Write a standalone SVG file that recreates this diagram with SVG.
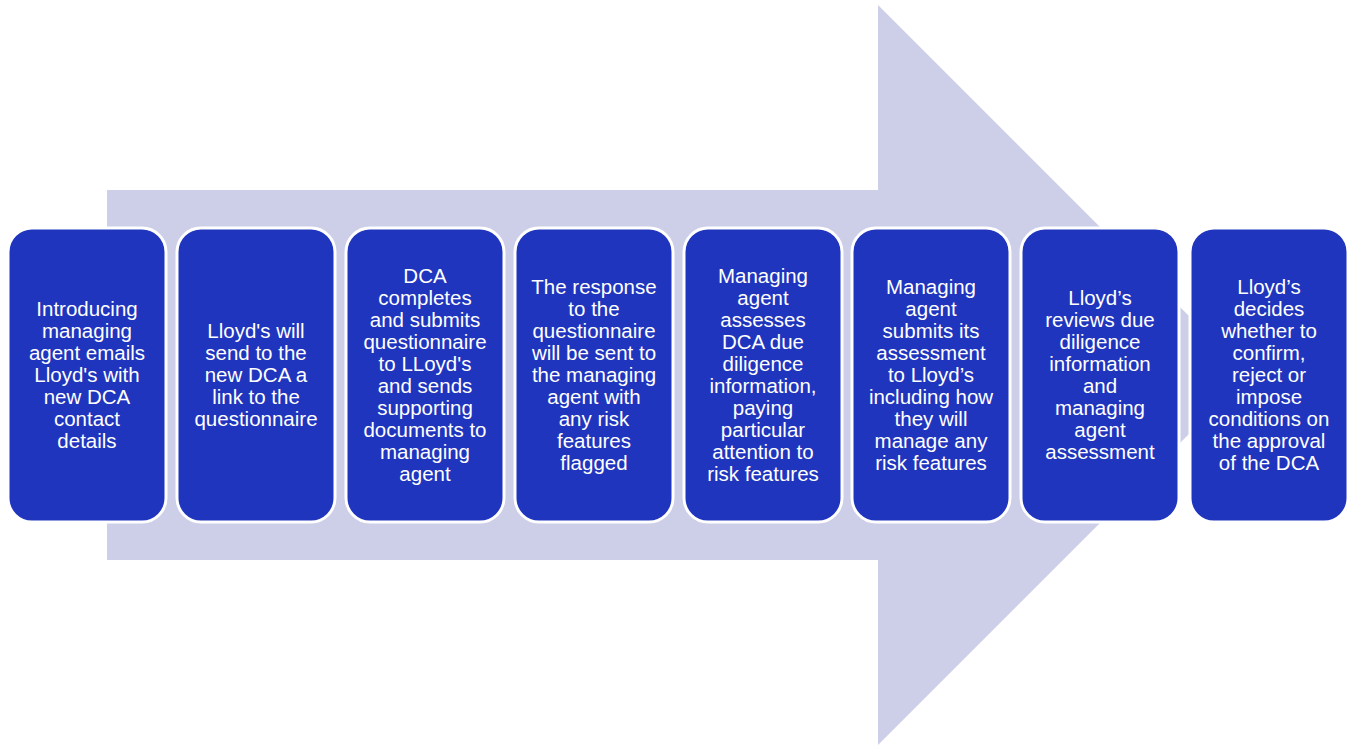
<svg xmlns="http://www.w3.org/2000/svg" width="1350" height="746" viewBox="0 0 1350 746">
<style>
.box{fill:#2035BE;stroke:#FFFFFF;stroke-width:3}
.t{font-family:"Liberation Sans",Arial,sans-serif;font-size:20.5px;fill:#FFFFFF;text-anchor:middle}
</style>
<rect width="1350" height="746" fill="#FFFFFF"/>
<g id="arrow">
<polygon points="107,190 878,190 878,5 1248,375 878,745 878,560 107,560" fill="#CDCFE8"/>
</g>
<g id="connectors"></g>
<g id="n1"><rect class="box" x="8" y="228" width="158" height="294" rx="24"/>
<text class="t"><tspan x="87" y="316">Introducing</tspan><tspan x="87" y="338">managing</tspan><tspan x="87" y="360">agent emails</tspan><tspan x="87" y="382">Lloyd's with</tspan><tspan x="87" y="404">new DCA</tspan><tspan x="87" y="426">contact</tspan><tspan x="87" y="448">details</tspan></text></g>
<g id="n2"><rect class="box" x="177" y="228" width="158" height="294" rx="24"/>
<text class="t"><tspan x="256" y="338">Lloyd's will</tspan><tspan x="256" y="360">send to the</tspan><tspan x="256" y="382">new DCA a</tspan><tspan x="256" y="404">link to the</tspan><tspan x="256" y="426">questionnaire</tspan></text></g>
<g id="n3"><rect class="box" x="346" y="228" width="158" height="294" rx="24"/>
<text class="t"><tspan x="425" y="283">DCA</tspan><tspan x="425" y="305">completes</tspan><tspan x="425" y="327">and submits</tspan><tspan x="425" y="349">questionnaire</tspan><tspan x="425" y="371">to LLoyd's</tspan><tspan x="425" y="393">and sends</tspan><tspan x="425" y="415">supporting</tspan><tspan x="425" y="437">documents to</tspan><tspan x="425" y="459">managing</tspan><tspan x="425" y="481">agent</tspan></text></g>
<g id="n4"><rect class="box" x="515" y="228" width="158" height="294" rx="24"/>
<text class="t"><tspan x="594" y="294">The response</tspan><tspan x="594" y="316">to the</tspan><tspan x="594" y="338">questionnaire</tspan><tspan x="594" y="360">will be sent to</tspan><tspan x="594" y="382">the managing</tspan><tspan x="594" y="404">agent with</tspan><tspan x="594" y="426">any risk</tspan><tspan x="594" y="448">features</tspan><tspan x="594" y="470">flagged</tspan></text></g>
<g id="n5"><rect class="box" x="684" y="228" width="158" height="294" rx="24"/>
<text class="t"><tspan x="763" y="283">Managing</tspan><tspan x="763" y="305">agent</tspan><tspan x="763" y="327">assesses</tspan><tspan x="763" y="349">DCA due</tspan><tspan x="763" y="371">diligence</tspan><tspan x="763" y="393">information,</tspan><tspan x="763" y="415">paying</tspan><tspan x="763" y="437">particular</tspan><tspan x="763" y="459">attention to</tspan><tspan x="763" y="481">risk features</tspan></text></g>
<g id="n6"><rect class="box" x="852" y="228" width="158" height="294" rx="24"/>
<text class="t"><tspan x="931" y="294">Managing</tspan><tspan x="931" y="316">agent</tspan><tspan x="931" y="338">submits its</tspan><tspan x="931" y="360">assessment</tspan><tspan x="931" y="382">to Lloyd’s</tspan><tspan x="931" y="404">including how</tspan><tspan x="931" y="426">they will</tspan><tspan x="931" y="448">manage any</tspan><tspan x="931" y="470">risk features</tspan></text></g>
<g id="n7"><rect class="box" x="1021" y="228" width="158" height="294" rx="24"/>
<text class="t"><tspan x="1100" y="305">Lloyd’s</tspan><tspan x="1100" y="327">reviews due</tspan><tspan x="1100" y="349">diligence</tspan><tspan x="1100" y="371">information</tspan><tspan x="1100" y="393">and</tspan><tspan x="1100" y="415">managing</tspan><tspan x="1100" y="437">agent</tspan><tspan x="1100" y="459">assessment</tspan></text></g>
<g id="n8"><rect class="box" x="1190" y="228" width="158" height="294" rx="24"/>
<text class="t"><tspan x="1269" y="294">Lloyd’s</tspan><tspan x="1269" y="316">decides</tspan><tspan x="1269" y="338">whether to</tspan><tspan x="1269" y="360">confirm,</tspan><tspan x="1269" y="382">reject or</tspan><tspan x="1269" y="404">impose</tspan><tspan x="1269" y="426">conditions on</tspan><tspan x="1269" y="448">the approval</tspan><tspan x="1269" y="470">of the DCA</tspan></text></g>
</svg>
